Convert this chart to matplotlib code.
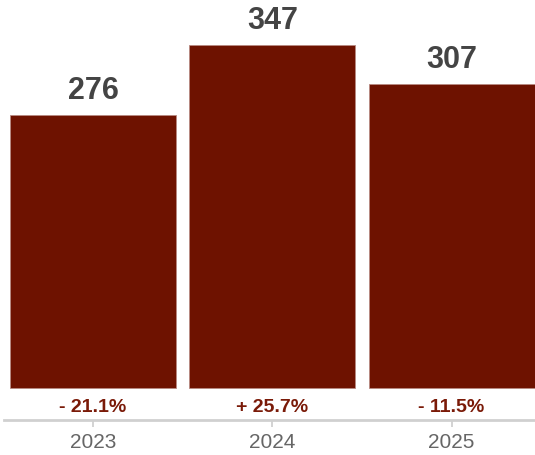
import matplotlib.pyplot as plt

years = ["2023", "2024", "2025"]
counts = [276, 347, 307]
changes = ["- 21.1%", "+ 25.7%", "- 11.5%"]

bar_color = "#6e1200"

fig = plt.figure(figsize=(5.35, 4.56), dpi=100)
ax = fig.add_axes([4 / 535, 35 / 456, 531 / 535, 421 / 456])

x = list(range(len(years)))
ax.bar(x, counts, width=0.926, color=bar_color, edgecolor="#b88a82", linewidth=0.6)

# value on top of each bar
for xi, v in zip(x, counts):
    ax.text(xi, v + 10, str(v), ha="center", va="bottom", fontsize=22,
            fontweight="bold", color="#444444", family="Liberation Sans")

# year-over-year change just under each bar
for xi, c in zip(x, changes):
    ax.text(xi, -19, c, ha="center", va="center", fontsize=14,
            fontweight="bold", color="#7a1a08", family="Liberation Sans")

ax.set_xlim(-0.496, 2.465)
ax.set_ylim(-32.3, 393)

ax.set_xticks(x)
ax.set_xticklabels(years, fontsize=15, color="#666666", family="Liberation Sans")
ax.tick_params(axis="x", length=5, width=1.2, color="#cccccc", pad=4)
ax.set_yticks([])

for side in ["top", "right", "left"]:
    ax.spines[side].set_visible(False)
ax.spines["bottom"].set_color("#d0d0d0")
ax.spines["bottom"].set_linewidth(2)

fig.savefig("out.png", dpi=100)
